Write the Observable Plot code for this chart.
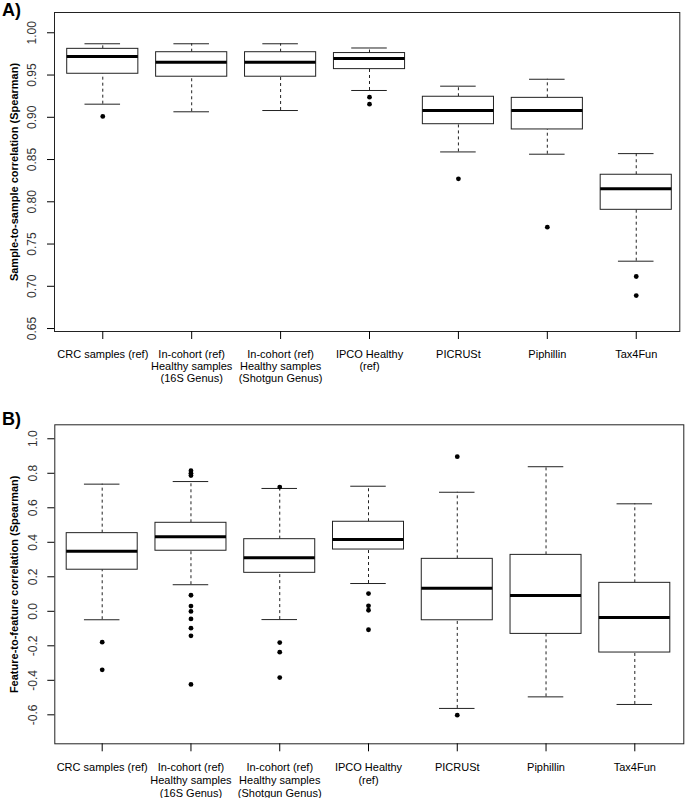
<!DOCTYPE html>
<html>
<head>
<meta charset="utf-8">
<script src="https://cdn.jsdelivr.net/npm/d3@7"></script>
<script src="https://cdn.jsdelivr.net/npm/@observablehq/plot@0.6"></script>
<style>
  body { margin: 0; background: white; }
  #wrap { position: relative; width: 685px; height: 798px; background: white; font-family: "Liberation Sans", Arial, sans-serif; }
  .panel { position: absolute; font-weight: bold; font-size: 18px; color: black; }
  svg { display: block; }
</style>
</head>
<body>
<div id="wrap">
  <div id="plots"></div>
  <div class="panel" style="left:2px; top:0px;">A)</div>
  <div class="panel" style="left:2px; top:409px;">B)</div>
</div>
<script>
const categories = [
  "CRC samples (ref)",
  "In-cohort (ref)\nHealthy samples\n(16S Genus)",
  "In-cohort (ref)\nHealthy samples\n(Shotgun Genus)",
  "IPCO Healthy\n(ref)",
  "PICRUSt",
  "Piphillin",
  "Tax4Fun"
];

// Panel A: sample-to-sample correlation
const aLow  = [0.9155, 0.9065, 0.908, 0.9317, 0.859, 0.8563, 0.7297];
const aQ1   = [0.9515, 0.948, 0.948, 0.957, 0.8918, 0.8856, 0.7905];
const aMed  = [0.972, 0.965, 0.965, 0.9696, 0.908, 0.908, 0.8154];
const aQ3   = [0.981, 0.977, 0.977, 0.976, 0.9243, 0.923, 0.832];
const aHigh = [0.987, 0.987, 0.987, 0.982, 0.9368, 0.945, 0.857];
const aOut  = [[0.901], [], [], [0.9238, 0.9155], [0.8272], [0.770], [0.7116, 0.689]];
const aTicks = [0.65, 0.70, 0.75, 0.80, 0.85, 0.90, 0.95, 1.00];

// Panel B: feature-to-feature correlation
const bLow  = [-0.049, 0.154, -0.048, 0.161, -0.563, -0.496, -0.540];
const bQ1   = [0.241, 0.351, 0.223, 0.358, -0.052, -0.131, -0.239];
const bMed  = [0.348, 0.432, 0.310, 0.416, 0.134, 0.092, -0.036];
const bQ3   = [0.453, 0.513, 0.418, 0.519, 0.304, 0.327, 0.165];
const bHigh = [0.737, 0.752, 0.712, 0.725, 0.690, 0.838, 0.623];
const bOut  = [[-0.179, -0.339],
               [0.815, 0.80, 0.787, 0.093, 0.030, -0.001, -0.044, -0.098, -0.142, -0.424],
               [0.72, -0.181, -0.237, -0.384],
               [0.103, 0.032, 0.006, -0.107],
               [0.896, -0.602], [], []];
const bTicks = [-0.6, -0.4, -0.2, 0.0, 0.2, 0.4, 0.6, 0.8, 1.0];

function boxPanel({low, q1, med, q3, high, out, ticks, digits, title, height, margins, xDomain, yDomain, lineHeight}) {
  const idx = d3.range(categories.length);
  const outs = out.flatMap((arr, i) => arr.map(v => ({x: i + 1, y: v})));
  return Plot.plot({
    width: 685,
    height,
    marginLeft: margins[0], marginRight: margins[1], marginTop: margins[2], marginBottom: margins[3],
    style: {fontFamily: "'Liberation Sans', Arial, sans-serif", background: "white", color: "black", overflow: "visible"},
    x: {type: "linear", domain: xDomain},
    y: {type: "linear", domain: yDomain},
    marks: [
      Plot.ruleX(idx, {x: i => i + 1, y1: i => q3[i], y2: i => high[i], stroke: "#222", strokeDasharray: "3,3"}),
      Plot.ruleX(idx, {x: i => i + 1, y1: i => low[i], y2: i => q1[i], stroke: "#222", strokeDasharray: "3,3"}),
      Plot.ruleY(idx, {x1: i => i + 0.8, x2: i => i + 1.2, y: i => high[i], stroke: "#222"}),
      Plot.ruleY(idx, {x1: i => i + 0.8, x2: i => i + 1.2, y: i => low[i], stroke: "#222"}),
      Plot.rect(idx, {x1: i => i + 0.6, x2: i => i + 1.4, y1: i => q1[i], y2: i => q3[i], fill: "white", stroke: "#222"}),
      Plot.ruleY(idx, {x1: i => i + 0.6, x2: i => i + 1.4, y: i => med[i], stroke: "black", strokeWidth: 3}),
      Plot.dot(outs, {x: "x", y: "y", r: 2.4, fill: "black", stroke: null}),
      Plot.frame({stroke: "#222"}),
      Plot.axisX({ticks: idx.map(i => i + 1), tickFormat: i => categories[i - 1], tickSize: 8, tickPadding: 10, fontSize: 11, lineHeight, label: null}),
      Plot.axisY({ticks, tickSize: 7, tickFormat: () => "", label: null}),
      Plot.text(ticks, {y: d => d, text: d => d.toFixed(digits), frameAnchor: "left", dx: -22, rotate: -90, textAnchor: "middle", lineAnchor: "middle", fontSize: 12, fill: "#333"}),
      Plot.text([title], {frameAnchor: "left", dx: -40, rotate: -90, textAnchor: "middle", lineAnchor: "middle", fontSize: 11, fontWeight: "bold"})
    ]
  });
}

const plotA = boxPanel({
  low: aLow, q1: aQ1, med: aMed, q3: aQ3, high: aHigh, out: aOut,
  ticks: aTicks, digits: 2, title: "Sample-to-sample correlation (Spearman)",
  height: 392, margins: [54, 5.7, 12, 61],
  xDomain: [0.457, 7.49], yDomain: [0.6465, 1.024], lineHeight: 12 / 11
});
const plotB = boxPanel({
  low: bLow, q1: bQ1, med: bMed, q3: bQ3, high: bHigh, out: bOut,
  ticks: bTicks, digits: 1, title: "Feature-to-feature correlation (Spearman)",
  height: 406, margins: [54.3, 1.7, 32.3, 54.7],
  xDomain: [0.466, 7.552], yDomain: [-0.768, 1.081], lineHeight: 13 / 11
});
const host = document.getElementById("plots");
host.appendChild(plotA);
host.appendChild(plotB);
</script>
</body>
</html>
